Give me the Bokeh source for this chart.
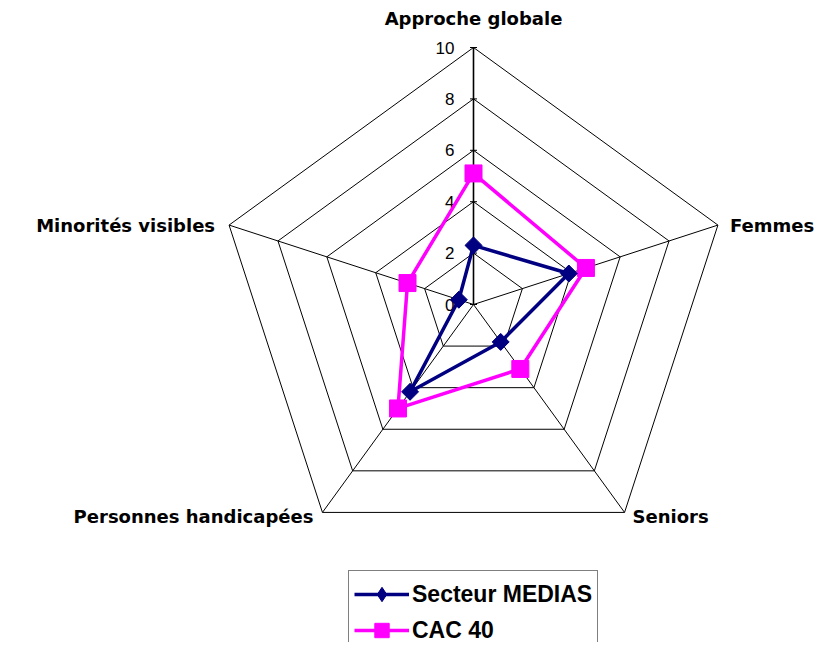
import math
from bokeh.plotting import figure
from bokeh.models import Range1d, Legend, LegendItem
from bokeh.core.properties import value
from bokeh.embed import file_html
from bokeh.resources import INLINE

# ---- data ----
categories = ["Approche globale", "Femmes", "Seniors", "Personnes handicapées", "Minorités visibles"]
medias = [2.3, 3.9, 1.8, 4.2, 0.6]
cac40 = [5.1, 4.6, 3.1, 5.0, 2.7]
grid_levels = [2, 4, 6, 8, 10]
tick_values = [0, 2, 4, 6, 8, 10]
tick_labels = ["0", "2", "4", "6", "8", "10"]

W, H = 817, 642
S = 25.7            # pixels per unit
CX, CY = 473, 304   # centre in figure pixels

p = figure(width=W, height=H, output_backend="svg", toolbar_location=None,
           x_range=Range1d(-CX / S, (W - CX) / S),
           y_range=Range1d(-(H - CY) / S, CY / S),
           min_border=0, outline_line_color=None)
p.axis.visible = False
p.grid.visible = False
p.background_fill_color = "white"

n = len(categories)
angles = [math.pi / 2 - 2 * math.pi * i / n for i in range(n)]


def pts(vals):
    xs = [v * math.cos(a) for v, a in zip(vals, angles)]
    ys = [v * math.sin(a) for v, a in zip(vals, angles)]
    return xs, ys


# grid pentagons
for g in grid_levels:
    xs, ys = pts([g] * n)
    p.line(xs + xs[:1], ys + ys[:1], line_color="black", line_width=1)

# spokes
for i, a in enumerate(angles):
    xs, ys = pts([10] * n)
    p.line([0, xs[i]], [0, ys[i]], line_color="black", line_width=1.6 if i == 0 else 1)

# ticks on the value axis
p.scatter([0] * len(tick_values), tick_values, marker="dash", size=7, line_color="black", line_width=1)
p.text([0] * len(tick_values), tick_values, text=tick_labels, x_offset=-19,
       text_align="right", text_baseline="middle", text_font=value("Liberation Sans"),
       text_font_size="17px", text_color="black")

# series
mx, my = pts(medias)
cx, cy = pts(cac40)
l2 = p.line(cx + cx[:1], cy + cy[:1], line_color="#FF00FF", line_width=3.5)
s2 = p.scatter(cx, cy, marker="square", size=17, fill_color="#FF00FF", line_color="#FF00FF")
l1 = p.line(mx + mx[:1], my + my[:1], line_color="#000080", line_width=3.5)
# diamond (used for the legend glyph), covered by the rotated square on the plot
d1 = p.scatter(mx, my, marker="diamond", size=16, fill_color="#000080", line_color="#000080")
s1 = p.scatter(mx, my, marker="square", angle=math.pi / 4, size=12, fill_color="#000080", line_color="#000080")

# category labels
vx, vy = pts([10] * n)
lab_dx = [0, 12, 8, -9, -14]
lab_dy = [-29, 0, 4, 4, 0]
lab_align = ["center", "left", "left", "right", "right"]
for i in range(n):
    p.text([vx[i]], [vy[i]], text=[categories[i]], x_offset=lab_dx[i], y_offset=lab_dy[i],
           text_align=lab_align[i], text_baseline="middle",
           text_font=value("DejaVu Sans"), text_font_style="bold",
           text_font_size="18px", text_color="black")

legend = Legend(items=[LegendItem(label="Secteur MEDIAS", renderers=[l1, d1]),
                       LegendItem(label="CAC 40", renderers=[l2, s2])],
                location=(348, -12), orientation="vertical",
                border_line_color="black", border_line_width=1,
                background_fill_color="white", background_fill_alpha=1,
                label_text_font="Liberation Sans", label_text_font_style="bold",
                label_text_font_size="23px", label_text_color="black", label_standoff=3,
                glyph_width=55, glyph_height=36, label_height=26,
                spacing=0, padding=5, margin=0)
p.add_layout(legend, "center")

open("out.html", "w").write(file_html(p, INLINE))
